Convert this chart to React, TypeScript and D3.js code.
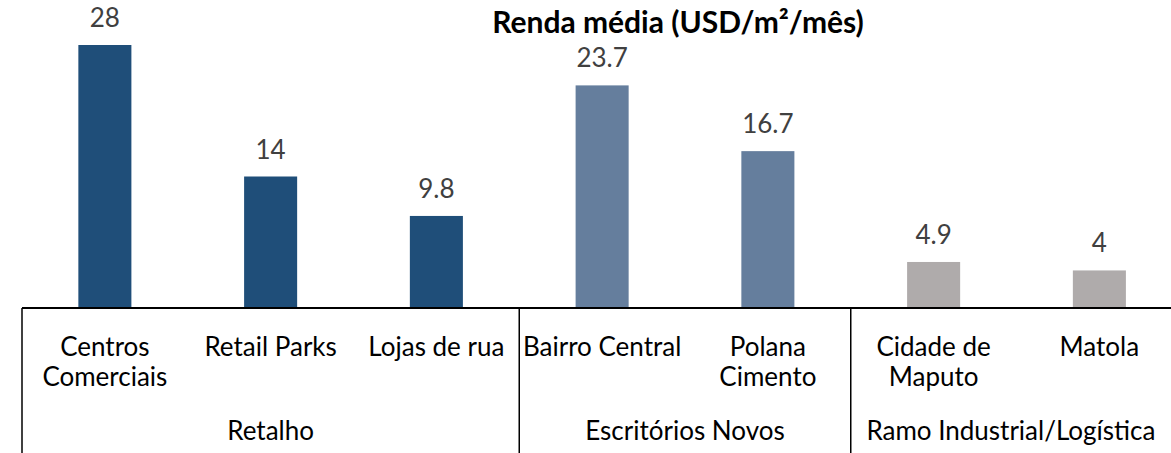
import { useEffect, useRef } from "react";
import * as d3 from "d3";

const categories = [
  ["Centros", "Comerciais"],
  ["Retail Parks"],
  ["Lojas de rua"],
  ["Bairro Central"],
  ["Polana", "Cimento"],
  ["Cidade de", "Maputo"],
  ["Matola"],
];
const values = [28, 14, 9.8, 23.7, 16.7, 4.9, 4];
const groups = ["Retalho", "Escritórios Novos", "Ramo Industrial/Logística"];
const groupOf = [0, 0, 0, 1, 1, 2, 2];
const groupColors = ["#1F4E79", "#657E9D", "#AFABAB"];
const title = "Renda média (USD/m²/mês)";

const W = 1171;
const H = 453;
const FONT = "Lato, 'Open Sans', sans-serif";

export default function App() {
  const svgRef = useRef<SVGSVGElement>(null);

  useEffect(() => {
    if (!svgRef.current) return;
    const svg = d3.select(svgRef.current);
    svg.selectAll("*").remove();

    const baseY = 308;
    const ids = categories.map((_, i) => String(i));

    const x = d3.scaleBand().domain(ids).range([22, 1182.25]).paddingInner(0.68).paddingOuter(0.34);
    const band = d3.scaleBand().domain(ids).range([22, 1182.25]);
    const y = d3.scaleLinear().domain([0, 28]).range([baseY, 45]);

    // bars
    svg
      .selectAll(".bar")
      .data(values)
      .enter()
      .append("rect")
      .attr("x", (_, i) => x(ids[i])!)
      .attr("y", (d) => y(d))
      .attr("width", x.bandwidth())
      .attr("height", (d) => baseY - y(d))
      .attr("fill", (_, i) => groupColors[groupOf[i]]);

    // value labels
    svg
      .selectAll(".val")
      .data(values)
      .enter()
      .append("text")
      .attr("x", (_, i) => band(ids[i])! + band.bandwidth() / 2)
      .attr("y", (d) => y(d) - 18)
      .attr("text-anchor", "middle")
      .attr("font-family", FONT)
      .attr("font-size", 26)
      .attr("fill", "#404040")
      .text((d) => String(d));

    // axis line
    svg
      .append("line")
      .attr("x1", 22)
      .attr("x2", W)
      .attr("y1", baseY)
      .attr("y2", baseY)
      .attr("stroke", "#000")
      .attr("stroke-width", 2);

    // group separators
    const groupStarts = groups.map((_, g) => groupOf.indexOf(g));
    svg
      .selectAll(".sep")
      .data(groupStarts)
      .enter()
      .append("line")
      .attr("x1", (i) => band(ids[i])!)
      .attr("x2", (i) => band(ids[i])!)
      .attr("y1", baseY)
      .attr("y2", H)
      .attr("stroke", "#000")
      .attr("stroke-width", 1.5);

    // category labels
    const cat = svg
      .selectAll(".cat")
      .data(categories)
      .enter()
      .append("text")
      .attr("text-anchor", "middle")
      .attr("font-family", FONT)
      .attr("font-size", 26)
      .attr("fill", "#000");
    cat
      .selectAll("tspan")
      .data((d, i) => d.map((line) => ({ line, i })))
      .enter()
      .append("tspan")
      .attr("x", (d) => band(ids[d.i])! + band.bandwidth() / 2)
      .attr("y", (_, j) => 356 + j * 30)
      .text((d) => d.line);

    // group labels (last one is centred on the visible part)
    svg
      .selectAll(".grp")
      .data(groups)
      .enter()
      .append("text")
      .attr("x", (_, g) => {
        const members = ids.filter((_, i) => groupOf[i] === g);
        const x0 = band(members[0])!;
        const x1 = band(members[members.length - 1])! + band.bandwidth();
        return (x0 + Math.min(x1, W)) / 2;
      })
      .attr("y", 440)
      .attr("text-anchor", "middle")
      .attr("font-family", FONT)
      .attr("font-size", 26)
      .attr("fill", "#000")
      .text((d) => d);

    // title
    svg
      .append("text")
      .attr("x", 678)
      .attr("y", 33)
      .attr("text-anchor", "middle")
      .attr("font-family", FONT)
      .attr("font-size", 30)
      .attr("font-weight", "bold")
      .attr("fill", "#000")
      .text(title);
  }, []);

  return (
    <svg
      ref={svgRef}
      width={W}
      height={H}
      style={{ position: "absolute", left: 0, top: 0, background: "#fff" }}
    />
  );
}
